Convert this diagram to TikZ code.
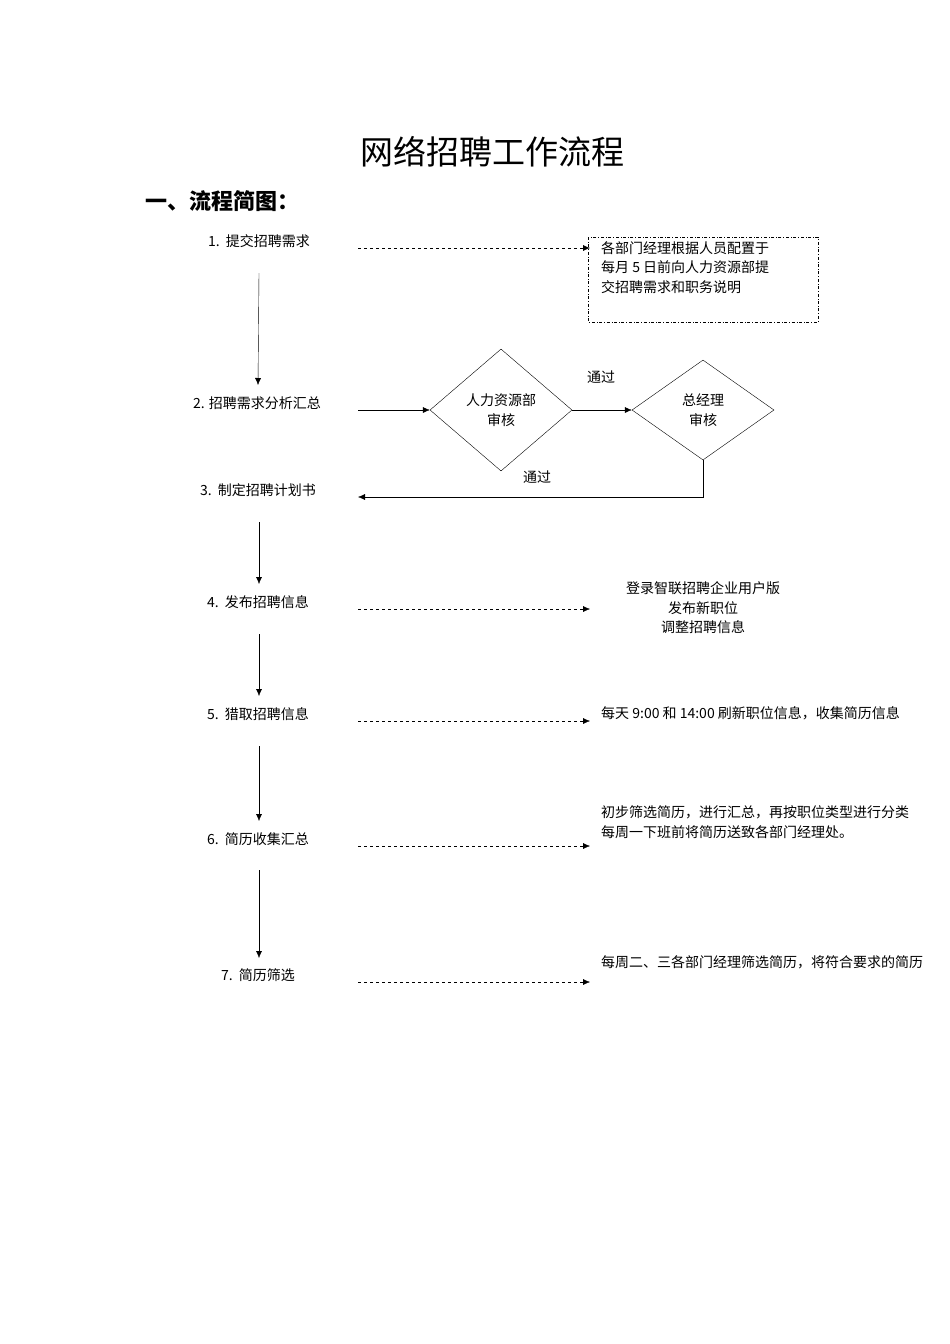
\documentclass[tikz,border=0pt]{standalone}
\usepackage{fontspec}
\setmainfont{Liberation Serif}
\newfontfamily\cjk{Noto Sans CJK SC}
\usetikzlibrary{shapes.geometric,arrows.meta}
\begin{document}
\begin{tikzpicture}[x=1pt,y=-1pt,
  txt/.style={font=\cjk\fontsize{14}{19.5}\selectfont,inner sep=0pt},
  lbl/.style={txt,anchor=center},
  dsh/.style={dashed,-{Latex[length=7pt,width=6pt]}},
  sol/.style={-{Latex[length=7pt,width=6pt]}},
  dia/.style={draw,diamond,aspect=1.4,inner sep=0pt,align=center,txt}]
\useasboundingbox (0,0) rectangle (950,1344);
\clip (0,0) rectangle (950,1344);
\node[inner sep=0pt,font=\cjk\fontsize{33}{36}\selectfont] (title) at (492,152) {网络招聘工作流程};
\node[inner sep=0pt,anchor=west,font=\cjk\bfseries\fontsize{22}{26}\selectfont] (sec) at (145,201) {一、流程简图：};
\node[lbl] (s1) at (259,241) {1.\ \ 提交招聘需求};
\node[lbl] (s2) at (257,403) {2. 招聘需求分析汇总};
\node[lbl] (s3) at (258,490) {3.\ \ 制定招聘计划书};
\node[lbl] (s4) at (258,602) {4.\ \ 发布招聘信息};
\node[lbl] (s5) at (258,714) {5.\ \ 猎取招聘信息};
\node[lbl] (s6) at (258,839) {6.\ \ 简历收集汇总};
\node[lbl] (s7) at (258,975) {7.\ \ 简历筛选};
% vertical arrows
\coordinate (a1) at (259,273); \coordinate (b1) at (258,385);
\coordinate (a3) at (259,522); \coordinate (b3) at (259,584);
\coordinate (a4) at (259,634); \coordinate (b4) at (259,696);
\coordinate (a5) at (259,746); \coordinate (b5) at (259,821);
\coordinate (a6) at (259,870); \coordinate (b6) at (259,958);
\draw[sol] (a1) -- (b1);
\draw[sol] (a3) -- (b3);
\draw[sol] (a4) -- (b4);
\draw[sol] (a5) -- (b5);
\draw[sol] (a6) -- (b6);
% box
\draw[dash dot] (588,237) rectangle (818,322);
\node[txt,anchor=north west,align=left] (boxt) at (601,241) {各部门经理根据人员配置于\\每月 5 日前向人力资源部提\\交招聘需求和职务说明};
\coordinate (d1s) at (358,248); \coordinate (d1e) at (590,248);
\draw[dsh] (d1s) -- (d1e);
% diamonds
\node[dia,minimum width=142pt,minimum height=122pt] (hr) at (501,410) {};
\node[txt,align=center] (hrt) at (501,410) {人力资源部\\审核};
\node[dia,minimum width=142pt,minimum height=100pt] (gm) at (703,410) {};
\node[txt,align=center] (gmt) at (703,410) {总经理\\审核};
\coordinate (c2) at (358,410);
\draw[sol] (c2) -- (hr.west);
\draw[sol] (hr.east) -- (gm.west);
\coordinate (c3) at (358,497);
\draw[sol] (gm.south) |- (c3);
\node[lbl] (p1) at (601,377) {通过};
\node[lbl] (p2) at (537,477) {通过};
% right texts
\node[txt,align=center] (r4) at (703,608) {登录智联招聘企业用户版\\发布新职位\\调整招聘信息};
\node[txt,anchor=west] (r5) at (601,713) {每天 9:00 和 14:00 刷新职位信息，收集简历信息};
\node[txt,anchor=west,align=left] (r6) at (601,822) {初步筛选简历，进行汇总，再按职位类型进行分类\\每周一下班前将简历送致各部门经理处。};
\node[txt,anchor=west] (r7) at (601,962) {每周二、三各部门经理筛选简历，将符合要求的简历};
\coordinate (d4s) at (358,609); \coordinate (d4e) at (590,609);
\coordinate (d5s) at (358,721); \coordinate (d5e) at (590,721);
\coordinate (d6s) at (358,846); \coordinate (d6e) at (590,846);
\coordinate (d7s) at (358,982); \coordinate (d7e) at (590,982);
\draw[dsh] (d4s) -- (d4e);
\draw[dsh] (d5s) -- (d5e);
\draw[dsh] (d6s) -- (d6e);
\draw[dsh] (d7s) -- (d7e);
\end{tikzpicture}
\end{document}
